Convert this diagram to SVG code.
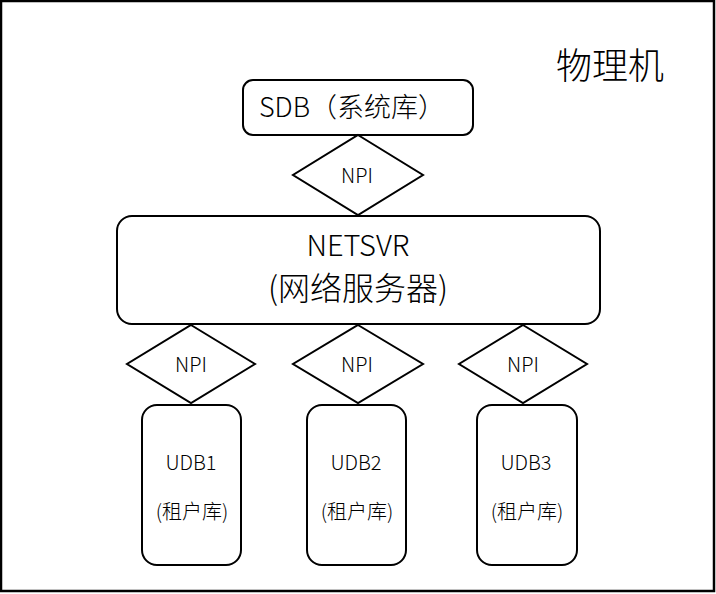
<svg xmlns="http://www.w3.org/2000/svg" width="716" height="594" viewBox="0 0 716 594">
<style>
.b{fill:#fff;stroke:#000;stroke-width:2}
.t{font-family:"Noto Sans CJK SC","Noto Sans",sans-serif;font-weight:300;fill:#000;text-anchor:middle}
</style>
<rect x="1" y="1" width="713" height="590" fill="#fff" stroke="#000" stroke-width="2.5"/>
<g id="title"><text class="t" x="610" y="79" font-size="36">物理机</text></g>
<g id="sdb"><rect class="b" x="243" y="80" width="230" height="55" rx="10"/><text class="t" x="352" y="117" font-size="27">SDB（系统库）</text></g>
<g id="npi0"><polygon class="b" points="358,135 423,175 358,215 293,175"/><text class="t" x="357" y="183" font-size="20">NPI</text></g>
<g id="netsvr"><rect class="b" x="117" y="216" width="483" height="108" rx="15"/><text class="t" x="358" y="256" font-size="29">NETSVR</text><text class="t" x="358" y="300" font-size="32">(网络服务器)</text></g>
<g id="npi1"><polygon class="b" points="191,325 255,364 191,403 127,364"/><text class="t" x="191" y="372" font-size="20">NPI</text></g>
<g id="npi2"><polygon class="b" points="358,325 423,364 358,403 293,364"/><text class="t" x="357" y="372" font-size="20">NPI</text></g>
<g id="npi3"><polygon class="b" points="523,325 587,364 523,403 459,364"/><text class="t" x="523" y="372" font-size="20">NPI</text></g>
<g id="udb1"><rect class="b" x="142" y="405" width="99" height="160" rx="15"/><text class="t" x="191" y="470" font-size="20">UDB1</text><text class="t" x="192" y="519" font-size="20">(租户库)</text></g>
<g id="udb2"><rect class="b" x="307" y="405" width="99" height="160" rx="15"/><text class="t" x="356" y="470" font-size="20">UDB2</text><text class="t" x="357" y="519" font-size="20">(租户库)</text></g>
<g id="udb3"><rect class="b" x="477" y="405" width="100" height="160" rx="15"/><text class="t" x="526" y="470" font-size="20">UDB3</text><text class="t" x="527" y="519" font-size="20">(租户库)</text></g>
<g id="connectors"></g>
</svg>
